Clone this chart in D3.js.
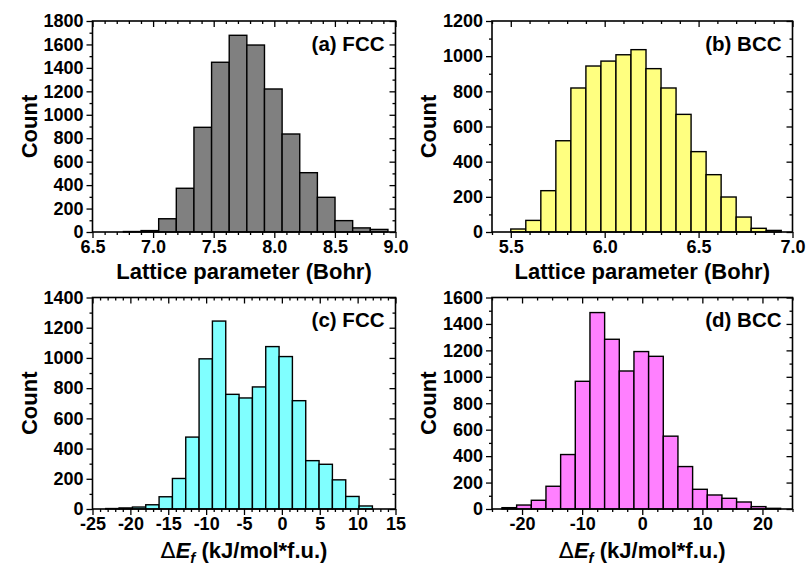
<!DOCTYPE html>
<html><head><meta charset="utf-8">
<script src="https://cdn.jsdelivr.net/npm/d3@7"></script>
<style>
body{margin:0;background:#fff}
svg{display:block}
text{font-family:"Liberation Sans",Arial,sans-serif;font-weight:bold;fill:#000}
</style>
</head><body>
<svg id="chart" width="809" height="572"></svg>
<script>
// ---- data ----
const aBinStart = 6.755, aBinWidth = 0.1455;
const aCounts = [4, 12, 113, 373, 893, 1448, 1678, 1595, 1220, 836, 506, 296, 97, 35, 22];
const aXTicks = [6.5, 7.0, 7.5, 8.0, 8.5, 9.0];

const bBinStart = 5.5, bBinWidth = 0.08;
const bCounts = [17, 66, 235, 519, 819, 944, 972, 1008, 1037, 929, 819, 669, 457, 326, 199, 85, 21, 9];
const bXTicks = [5.5, 6.0, 6.5, 7.0];

const cBinStart = -23.25, cBinWidth = 1.76;
const cCounts = [3, 7, 13, 28, 81, 202, 476, 994, 1244, 759, 735, 808, 1075, 1009, 717, 320, 296, 193, 83, 20];
const cXTicks = [-25, -20, -15, -10, -5, 0, 5, 10, 15];

const dBinStart = -23.34, dBinWidth = 2.44;
const dCounts = [10, 30, 66, 172, 412, 966, 1486, 1284, 1044, 1191, 1155, 551, 321, 149, 106, 81, 53, 18, 5];
const dXTicks = [-20, -10, 0, 10, 20];

const panelLabels = ["(a) FCC", "(b) BCC", "(c) FCC", "(d) BCC"];
const yTitle = "Count";
const latticeTitle = "Lattice parameter (Bohr)";
const energyUnit = " (kJ/mol*f.u.)";

// ---- layout ----
const fmt1 = d => d.toFixed(1);
const fmtInt = d => String(d);   // plain hyphen-minus as in the reference
const panels = [
  {counts:aCounts, start:aBinStart, width:aBinWidth, xDom:[6.5,9.0], xTicks:aXTicks, xMinor:0.1, xFmt:fmt1,
   yMax:1800, color:"#808080", label:panelLabels[0], title:"lattice", box:{l:92.5,r:395.5,t:21,b:232}},
  {counts:bCounts, start:bBinStart, width:bBinWidth, xDom:[5.4,7.0], xTicks:bXTicks, xMinor:0.1, xFmt:fmt1,
   yMax:1200, color:"#FFFF80", label:panelLabels[1], title:"lattice", box:{l:492,r:792.5,t:21,b:232}},
  {counts:cCounts, start:cBinStart, width:cBinWidth, xDom:[-25,15], xTicks:cXTicks, xMinor:1, xFmt:fmtInt,
   yMax:1400, color:"#80FFFF", label:panelLabels[2], title:"energy", box:{l:92.5,r:395.5,t:297.5,b:509}},
  {counts:dCounts, start:dBinStart, width:dBinWidth, xDom:[-25,25], xTicks:dXTicks, xMinor:2.5, xFmt:fmtInt,
   yMax:1600, color:"#FF80FF", label:panelLabels[3], title:"energy", box:{l:492,r:792.5,t:297.5,b:509}}
];

const svg = d3.select("#chart");

function minorTicks(dom, step, majors){
  const i0 = Math.ceil(dom[0]/step - 1e-6), i1 = Math.floor(dom[1]/step + 1e-6);
  return d3.range(i0, i1+1).map(i => +(i*step).toFixed(6))
    .filter(v => !majors.some(m => Math.abs(m - v) < 1e-6));
}

panels.forEach(p => {
  const B = p.box;
  const x = d3.scaleLinear().domain(p.xDom).range([B.l, B.r]);
  const y = d3.scaleLinear().domain([0, p.yMax]).range([B.b, B.t]);
  const g = svg.append("g");

  // bars
  g.selectAll("rect.bar").data(p.counts).join("rect")
    .attr("class","bar")
    .attr("x", (d,i) => x(p.start + i*p.width))
    .attr("width", (d,i) => x(p.start + (i+1)*p.width) - x(p.start + i*p.width))
    .attr("y", d => y(d))
    .attr("height", d => y(0) - y(d))
    .attr("fill", p.color)
    .attr("stroke", "#000")
    .attr("stroke-width", 1.4);

  const yMajors = d3.range(0, p.yMax + 1, 200);
  const yMinors = d3.range(100, p.yMax, 200);
  const xMinors = minorTicks(p.xDom, p.xMinor, p.xTicks);

  const styleAxis = sel => {
    sel.select(".domain").remove();
    sel.selectAll("line").attr("stroke","#000").attr("stroke-width",1.3);
    sel.selectAll("text").style("font-size","18px").style("font-family",'"Liberation Sans",Arial,sans-serif').style("font-weight","bold");
  };

  // bottom
  g.append("g").attr("transform",`translate(0,${B.b})`)
    .call(d3.axisBottom(x).tickValues(p.xTicks).tickFormat(p.xFmt).tickSize(6).tickPadding(2)).call(styleAxis);
  g.append("g").attr("transform",`translate(0,${B.b})`)
    .call(d3.axisBottom(x).tickValues(xMinors).tickFormat("").tickSize(3)).call(styleAxis);
  // top (inward)
  g.append("g").attr("transform",`translate(0,${B.t})`)
    .call(d3.axisTop(x).tickValues(p.xTicks).tickFormat("").tickSize(-6)).call(styleAxis);
  g.append("g").attr("transform",`translate(0,${B.t})`)
    .call(d3.axisTop(x).tickValues(xMinors).tickFormat("").tickSize(-3)).call(styleAxis);
  // left
  g.append("g").attr("transform",`translate(${B.l},0)`)
    .call(d3.axisLeft(y).tickValues(yMajors).tickFormat(d => String(d)).tickSize(6).tickPadding(3)).call(styleAxis);
  g.append("g").attr("transform",`translate(${B.l},0)`)
    .call(d3.axisLeft(y).tickValues(yMinors).tickFormat("").tickSize(3)).call(styleAxis);
  // right (inward)
  g.append("g").attr("transform",`translate(${B.r},0)`)
    .call(d3.axisRight(y).tickValues(yMajors).tickFormat("").tickSize(-6)).call(styleAxis);
  g.append("g").attr("transform",`translate(${B.r},0)`)
    .call(d3.axisRight(y).tickValues(yMinors).tickFormat("").tickSize(-3)).call(styleAxis);

  // frame
  g.append("rect").attr("x",B.l).attr("y",B.t).attr("width",B.r-B.l).attr("height",B.b-B.t)
    .attr("fill","none").attr("stroke","#000").attr("stroke-width",1.6);

  // panel label
  g.append("text").attr("x", B.r - 11).attr("y", B.t + 29.5).attr("text-anchor","end")
    .style("font-size","20.5px").text(p.label);

  // y title
  const cy = (B.t + B.b)/2;
  const tx = B.l - 56;
  g.append("text").attr("transform",`translate(${tx},${cy}) rotate(-90)`).attr("text-anchor","middle")
    .style("font-size","22px").text(yTitle);

  // x title
  const cx = (B.l + B.r)/2;
  if (p.title === "lattice") {
    g.append("text").attr("x", cx).attr("y", B.b + 47).attr("text-anchor","middle")
      .style("font-size","22px").text(latticeTitle);
  } else {
    const t = g.append("text").attr("x", cx).attr("y", B.b + 49).attr("text-anchor","middle").style("font-size","22px");
    t.append("tspan").style("font-weight","normal").style("font-family",'"DejaVu Sans",sans-serif').text("Δ");
    t.append("tspan").style("font-style","italic").text("E");
    t.append("tspan").style("font-style","italic").style("font-size","15px").attr("dy", 5).text("f");
    t.append("tspan").attr("dy", -5).text(energyUnit);
  }
});
</script>
</body></html>
